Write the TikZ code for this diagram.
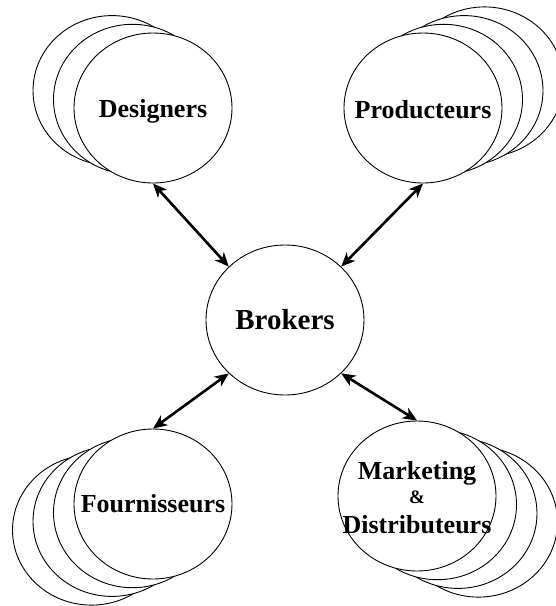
\documentclass[tikz,border=0pt]{standalone}
\usepackage{fontspec}
\setmainfont{Liberation Serif}
\usetikzlibrary{shapes.geometric,arrows.meta}

\begin{document}
\begin{tikzpicture}[x=1pt,y=-1pt]
        \tikzset{Acteur/.style={draw,fill=white,ellipse,minimum width=158pt,minimum height=150pt,inner sep=0pt,line width=0.9pt},
                 Nom/.style={font=\bfseries\fontsize{26}{27}\selectfont,align=center,inner sep=0pt},
                 Lien/.style={<->,>={Stealth[length=14pt,width=12pt,inset=4pt]},line width=2.6pt}}
        \useasboundingbox (0,0) rectangle (556,606);

        % piles derriere
        \foreach \i in {2,1}
            \node[Acteur] (D\i) at ({153-20.5*\i},{108-8.7*\i}) {};
        \foreach \i in {3,2,1}
            \node[Acteur] (P\i) at ({423+20.5*\i},{108-8.7*\i}) {};
        \foreach \i in {3,2,1}
            \node[Acteur] (F\i) at ({153-20.5*\i},{504+8.7*\i}) {};
        \foreach \i in {3,2,1}
            \node[Acteur] (M\i) at ({417+20.5*\i},{496+8.7*\i}) {};

        % acteurs
        \node[Acteur] (B)  at (285,320) {};
        \node[Acteur] (D0) at (153,108) {};
        \node[Acteur] (P0) at (423,108) {};
        \node[Acteur] (F0) at (153,504) {};
        \node[Acteur] (M0) at (417,496) {};

        \node[Nom,font=\bfseries\fontsize{29}{30}\selectfont] (LB) at (B.center) {Brokers};
        \node[Nom] (LD) at ([yshift=-3pt]D0.center) {Designers};
        \node[Nom] (LP) at ([yshift=-2pt]P0.center) {Producteurs};
        \node[Nom] (LF) at (F0.center) {Fournisseurs};
        \node[Nom] (LM) at ([yshift=-2pt]M0.center) {Marketing\\[-3pt]{\fontsize{19}{19}\selectfont\&}\\[3pt]Distributeurs};

        \draw[Lien] (D0.south) -- (B.north west);
        \draw[Lien] (P0.south) -- (B.north east);
        \draw[Lien] (F0.north) -- (B.south west);
        \draw[Lien] (M0.north) -- (B.south east);
\end{tikzpicture}
\end{document}
